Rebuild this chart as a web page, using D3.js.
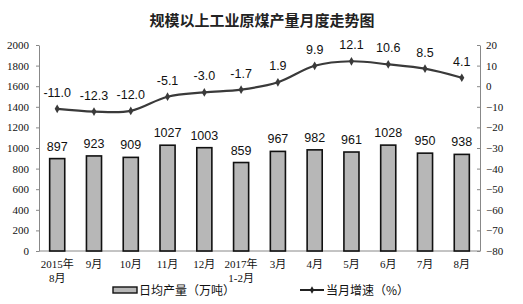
<!DOCTYPE html>
<html>
<head>
<meta charset="utf-8">
<script src="https://cdn.jsdelivr.net/npm/d3@7"></script>
<style>
  body { margin: 0; background: #fff; }
</style>
</head>
<body>
<div id="chart"></div>
<script>
const width = 523;
const height = 304;

// data
const categories = [["2015年", "8月"], ["9月"], ["10月"], ["11月"], ["12月"], ["2017年", "1-2月"],
  ["3月"], ["4月"], ["5月"], ["6月"], ["7月"], ["8月"]];
const output = [897, 923, 909, 1027, 1003, 859, 967, 982, 961, 1028, 950, 938];
const growth = [-11.0, -12.3, -12.0, -5.1, -3.0, -1.7, 1.9, 9.9, 12.1, 10.6, 8.5, 4.1];
const leftTicks = [0, 200, 400, 600, 800, 1000, 1200, 1400, 1600, 1800, 2000];
const rightTicks = [-80, -70, -60, -50, -40, -30, -20, -10, 0, 10, 20];

const margin = {top: 45, right: 43, bottom: 53, left: 39};
const serif = "'Liberation Serif', 'Noto Sans CJK SC', serif";
const sans = "'Liberation Sans', Arial, sans-serif";
const cjk = "'Noto Sans CJK SC', sans-serif";

const svg = d3.select("#chart").append("svg")
  .attr("width", width)
  .attr("height", height);

const x = d3.scaleBand()
  .domain(d3.range(categories.length))
  .range([margin.left, width - margin.right])
  .paddingInner(0.59)
  .paddingOuter(0.29);

const yL = d3.scaleLinear().domain([0, 2000]).range([height - margin.bottom, margin.top]);
const yR = d3.scaleLinear().domain([-80, 20]).range([height - margin.bottom, margin.top]);

// title
svg.append("text")
  .attr("x", 262).attr("y", 26)
  .attr("text-anchor", "middle")
  .style("font-family", cjk)
  .style("font-size", "15px")
  .style("font-weight", "bold")
  .attr("fill", "#222")
  .text("规模以上工业原煤产量月度走势图");

// left axis
const axL = svg.append("g")
  .attr("transform", `translate(${margin.left},0)`)
  .call(d3.axisLeft(yL).tickValues(leftTicks).tickSize(3).tickSizeOuter(0).tickFormat(d3.format("d")));
axL.selectAll("text").style("font-family", serif).style("font-size", "11px").attr("fill", "#111").attr("x", -10);

// right axis
const axR = svg.append("g")
  .attr("transform", `translate(${width - margin.right},0)`)
  .call(d3.axisRight(yR).tickValues(rightTicks).tickSize(-3).tickSizeOuter(0));
axR.selectAll("text").style("font-family", serif).style("font-size", "11px").attr("fill", "#111").attr("x", 6);

svg.selectAll(".domain, .tick line").attr("stroke", "#888");

// baseline
svg.append("line")
  .attr("x1", margin.left).attr("x2", width - margin.right)
  .attr("y1", yL(0)).attr("y2", yL(0))
  .attr("stroke", "#888");

// bars
svg.append("g").selectAll("rect")
  .data(output)
  .join("rect")
  .attr("x", (d, i) => x(i))
  .attr("width", x.bandwidth())
  .attr("y", d => yL(d))
  .attr("height", d => yL(0) - yL(d))
  .attr("fill", "#b7b7b7")
  .attr("stroke", "#111")
  .attr("stroke-width", 1.6);

svg.append("g").selectAll("text")
  .data(output)
  .join("text")
  .attr("x", (d, i) => x(i) + x.bandwidth() / 2)
  .attr("y", d => yL(d) - 8)
  .attr("text-anchor", "middle")
  .style("font-family", sans)
  .style("font-size", "12.5px")
  .attr("fill", "#111")
  .text(d => d);

// growth line
const line = d3.line()
  .x((d, i) => x(i) + x.bandwidth() / 2)
  .y(d => yR(d))
  .curve(d3.curveCatmullRom.alpha(0.5));

svg.append("path")
  .datum(growth)
  .attr("d", line)
  .attr("fill", "none")
  .attr("stroke", "#3a3a3a")
  .attr("stroke-width", 2.2);

svg.append("g").selectAll("path")
  .data(growth)
  .join("path")
  .attr("d", d3.symbol(d3.symbolDiamond, 22))
  .attr("transform", (d, i) => `translate(${x(i) + x.bandwidth() / 2},${yR(d)})`)
  .attr("fill", "#3a3a3a");

svg.append("g").selectAll("text")
  .data(growth)
  .join("text")
  .attr("x", (d, i) => x(i) + x.bandwidth() / 2)
  .attr("y", d => yR(d) - 12)
  .attr("text-anchor", "middle")
  .style("font-family", sans)
  .style("font-size", "12.5px")
  .attr("fill", "#111")
  .text(d => d.toFixed(1));

// category labels
const cat = svg.append("g").selectAll("text")
  .data(categories)
  .join("text")
  .attr("x", (d, i) => x(i) + x.bandwidth() / 2)
  .attr("y", 268)
  .attr("text-anchor", "middle")
  .style("font-family", serif)
  .style("font-size", "11px")
  .attr("fill", "#111");
cat.selectAll("tspan")
  .data(d => d)
  .join("tspan")
  .attr("x", function() { return this.parentNode.getAttribute("x"); })
  .attr("dy", (d, i) => i ? 14 : 0)
  .text(d => d);

// legend
const lg = svg.append("g");
lg.append("rect")
  .attr("x", 113).attr("y", 287).attr("width", 24).attr("height", 6)
  .attr("fill", "#b7b7b7").attr("stroke", "#111").attr("stroke-width", 1.4);
lg.append("text")
  .attr("x", 139).attr("y", 295)
  .style("font-family", cjk).style("font-size", "12px").attr("fill", "#111")
  .text("日均产量（万吨）");
lg.append("line")
  .attr("x1", 300).attr("x2", 324).attr("y1", 290).attr("y2", 290)
  .attr("stroke", "#222").attr("stroke-width", 2);
lg.append("path")
  .attr("d", d3.symbol(d3.symbolDiamond, 16))
  .attr("transform", "translate(312,290)")
  .attr("fill", "#222");
lg.append("text")
  .attr("x", 326).attr("y", 295)
  .style("font-family", cjk).style("font-size", "12px").attr("fill", "#111")
  .text("当月增速（%）");
</script>
</body>
</html>
